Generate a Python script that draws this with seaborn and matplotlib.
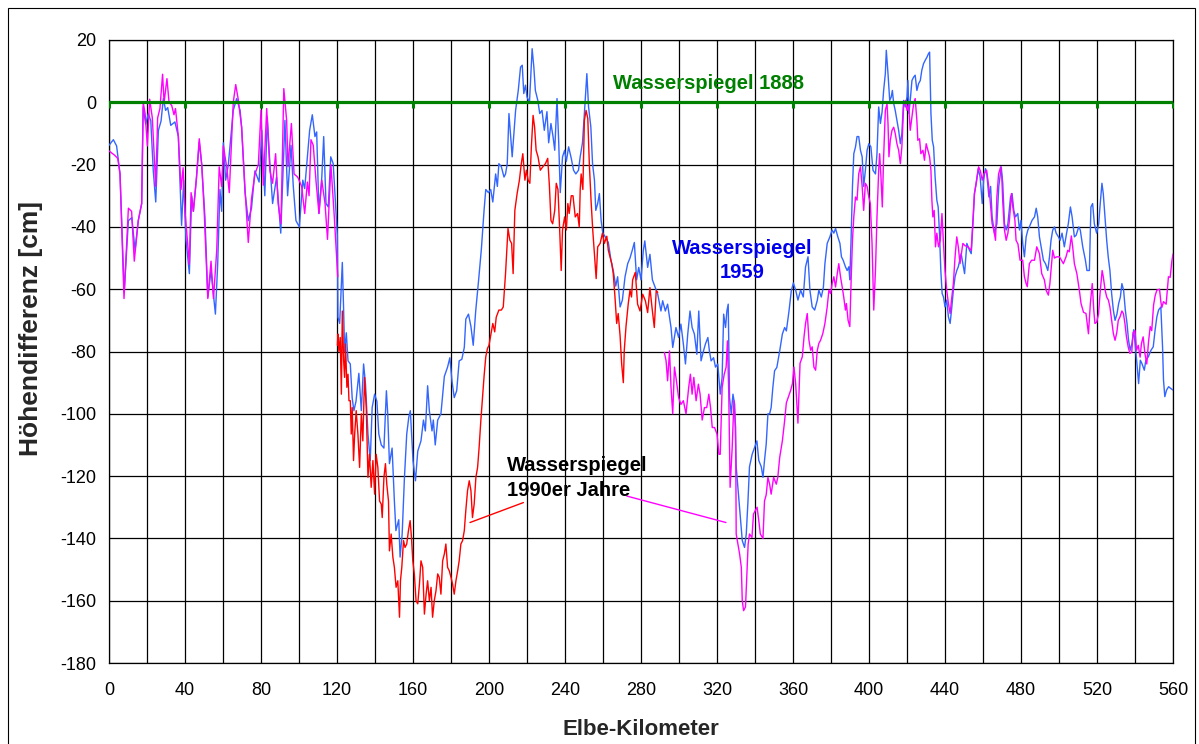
import matplotlib
matplotlib.use("Agg")
import matplotlib.pyplot as plt
import seaborn as sns
from matplotlib.patches import Rectangle

# ---------------- data: water level difference vs. Elbe kilometre ----------------
# Water level 1959
km_1959 = [
    0, 2.3, 4, 5.8, 8, 10.2, 12, 13.7, 15.4, 17.2, 18, 19.3, 20.7, 22, 23.3, 24.6, 26, 27.4,
    28.6, 29.8, 30.9, 32.5, 34.7, 36.5, 38.2, 39.3, 40.5, 42.3, 43.5, 44.4, 46, 47.5, 48.8,
    50.5, 52, 53.7, 56, 57.2, 58.4, 59.3, 60.2, 61.4, 62.8, 65.4, 67.2, 69, 69.8, 71.6, 73.3,
    75, 76.8, 79, 80.4, 82, 83.3, 84.7, 86.1, 88.2, 90.4, 92.6, 94, 95.8, 97, 98.4, 100.2,
    102, 103, 105.6, 107, 108.4, 109.3, 110.5, 112, 113, 114.2, 115.4, 116.7, 118, 120.2,
    120.5, 121.4, 122.8, 123.5, 124, 124.9, 125.8, 127, 128, 128.9, 130, 131.5, 132.8, 134,
    135, 136.3, 137.5, 138.5, 139.8, 141, 142, 143.3, 144.7, 146, 146.7, 147.6, 149, 150.2,
    151, 152.5, 153.2, 154.3, 155.5, 156.7, 157.8, 158.6, 160, 161.3, 162.5, 164.2, 165.5,
    166.5, 167.7, 168.6, 170, 170.7, 171.7, 173, 174.7, 176.5, 178.2, 179.4, 180.5, 181.7,
    183, 184.3, 185.7, 187, 187.8, 189.2, 190.5, 191.7, 193, 194.5, 196, 197.4, 198.3, 199.7,
    200.9, 202, 203.5, 204.4, 205.2, 206.5, 207.9, 208.7, 209.6, 210.5, 211.3, 212.2, 213,
    214, 215.4, 216.6, 217.5, 218.3, 219.2, 220, 221.3, 222.7, 223.6, 224.4, 225.7, 226.7,
    227.9, 229.1, 230.5, 231.4, 232.6, 233.7, 234.6, 235.8, 236.7, 237.5, 238.7, 239.8,
    240.7, 241.9, 243.3, 244.5, 245.7, 247.1, 248, 249.2, 250.2, 251.5, 252.4, 253.6, 254.5,
    255.5, 256.2, 257.2, 258.1, 259, 259.9, 261, 262.8, 264.2, 265.4, 266.7, 267.7, 269,
    270.2, 271.6, 273, 274.2, 275.4, 276.5, 277.7, 278.8, 280, 281.2, 282, 283.5, 284.7, 286,
    287.5, 288.8, 290.5, 291.4, 292.8, 294, 295, 295.8, 296.7, 298.4, 299.8, 301, 302.3,
    303.4, 304.6, 305.8, 306.9, 308.1, 309.4, 310.4, 311.6, 312.9, 313.9, 315.2, 316, 316.9,
    318.2, 319.2, 320.4, 321.7, 322.7, 323.5, 324.5, 325.2, 325.9, 326.6, 327.5, 328.4,
    329.3, 330.1, 331, 332.2, 333.3, 334.5, 335.4, 336.3, 337.1, 338.5, 339.8, 341, 342,
    343.3, 344.2, 345, 345.9, 346.8, 347.7, 348.5, 349.4, 350.3, 351.5, 353, 354.4, 355.6,
    356.5, 357.9, 359.1, 360.2, 361.4, 362.6, 364, 365.4, 366.6, 367.9, 368.9, 370.1, 371.4,
    372.8, 373.6, 374.9, 376, 376.8, 378, 379.4, 380.6, 381.5, 382.4, 383.6, 384.7, 385.5,
    386.4, 387.6, 388.5, 389.4, 389.9, 390.6, 391.3, 392, 392.9, 393.7, 394.6, 395.5, 396.4,
    397.2, 398.1, 399, 399.9, 401, 402.1, 403.4, 404.2, 405.1, 406, 406.9, 407.7, 408.6,
    409.1, 410, 410.9, 411.7, 412.3, 413, 413.8, 414.7, 415.6, 416.5, 417.3, 418.2, 419.1,
    420, 420.5, 421, 421.7, 422.6, 423.5, 424.3, 425.2, 426.1, 427, 427.8, 428.7, 429.6,
    430.5, 431.3, 431.9, 432.6, 433.3, 434, 434.8, 435.7, 436.4, 437.1, 437.8, 438.5, 439.2,
    440, 440.9, 441.8, 442.7, 443.6, 444.4, 445.3, 446.2, 447, 448.5, 450.3, 451.5, 452.9,
    453.8, 454.7, 455.5, 456.4, 457.5, 458.5, 459.6, 460.3, 461.3, 462, 463.1, 464, 464.8,
    466, 467.3, 468.3, 469.6, 470.4, 471.3, 472.2, 473.1, 474.5, 475.3, 476.2, 477.1, 478.3,
    479.2, 480, 480.9, 481.8, 482.7, 483.6, 484.4, 485.8, 487.1, 488, 488.8, 489.7, 490.9,
    491.8, 492.9, 494.1, 495, 495.8, 496.7, 497.6, 498.5, 499.7, 500.6, 501.6, 502.8, 504,
    504.9, 506, 506.9, 508.1, 509, 510.4, 511.2, 512.5, 513.9, 514.7, 516, 516.8, 517.7,
    518.6, 519.8, 520.9, 521.7, 522.6, 523.3, 524.2, 525.1, 525.9, 526.8, 527.7, 528.6,
    529.5, 530.5, 531.4, 532.3, 533.1, 534, 534.9, 535.8, 536.6, 537.5, 538.4, 539.3, 540.2,
    541, 541.9, 542.8, 543.6, 544.9, 545.7, 547, 548.4, 549.6, 550.6, 551.5, 552.4, 553.6,
    554.5, 555, 555.7, 556.6, 557.7, 558.9, 560,
]
h_1959 = [
    -13.8, -12, -14, -23, -61, -38, -37, -47.5, -38, -32.5, -1.5, -7, -3.6, -6, -22, -32, -9, -6,
    1.2, -2.6, -1.7, -7.4, -6.3, -11, -39.5, -25, -44, -55, -30, -35, -24.5, -12.7, -20,
    -37, -62.5, -54, -68, -52, -28, -35, -13, -25, -20, -2.6, 1.2, -2.6, -8, -29, -38,
    -34, -22, -25.6, -9, -30, -4.7, -20, -32.5, -24, -42, -5.8, -30, -13.8, -27, -38, -40,
    -25, -27.7, -9, -4, -11, -9.5, -35.7, -24, -11, -32.5, -33.6, -17.5, -19.7, -43,
    -69, -71, -51.4, -67, -80, -74, -83, -84, -95, -99, -96, -87, -99, -84,
    -90.5, -106.5, -115, -98, -93.7, -96, -106.5, -110, -111, -92.6, -100, -116, -111, -128,
    -137.5, -134, -146, -138.6, -120.4, -106.5, -101, -99, -115, -121.5, -112, -108.7, -102,
    -105.5, -91, -99, -105.5, -102, -110, -102, -100, -88, -85, -82, -89.4, -94.8,
    -92.6, -83, -82.5, -78.7, -69.6, -68, -72, -78, -67, -57.3, -47, -34.7, -28, -29,
    -28, -32, -23, -27, -19.7, -20.7, -24, -23, -19.7, -3.6, -10, -17.5, -11,
    -2.6, 3.8, 11.3, 11.9, 2.8, 5.5, 1.7, 0, 17.2, 11.3, 3.8, 0.6, -3.6,
    -2.6, -9, -3, -13, -6.8, -11, -15.4, 1.2, -13, -29, -17.5, -15.4,
    -19, -14.3, -18, -21.8, -23, -21.8, -17.5, -13, -3.6, 9.2, -1.5, -7.9, -19.7,
    -25, -34.7, -32.5, -29.3, -37.9, -42, -43, -45, -50.7, -54, -59, -56, -65.7,
    -63.5, -56, -51.8, -50, -47.5, -45, -57, -53, -57, -47.7, -44.5, -53, -48.8, -57,
    -59.5, -61.6, -67, -63.7, -67, -64.8, -69, -72.3, -78.7, -72.3, -75.5, -71.2, -77.6,
    -84, -74.4, -67, -72.3, -74.4, -80.9, -67, -83, -79.8, -77.6, -75.5, -79.8, -83,
    -82, -85, -84, -93.7, -88.3, -68, -72.3, -67, -64.8, -94.8, -100, -93.7,
    -97, -117, -123.6, -132, -140.7, -142.9, -138.6, -128, -117, -113, -110.8, -108.7, -115,
    -117, -120.4, -115, -109.7, -100, -100, -98, -91.5, -86.2, -85.1, -79.8, -74.4, -72.3,
    -73.4, -67, -60.5, -58, -60.3, -63.5, -60.3, -62.5, -52.8, -49.6, -60.3, -65.7, -66.7,
    -63.5, -60.3, -62.5, -59.3, -51.8, -45.3, -43.2, -41, -42, -40.5, -43.2, -45.3, -49.6,
    -50.7, -52.8, -54, -52.8, -57, -43.2, -27, -16.5, -14.3, -11, -11, -15.4, -17.5,
    -27, -21.8, -15.4, -13.3, -14.3, -21.8, -23, -16.5, -1.5, -6.8, -3, 3.8, 9.2,
    16.7, 9.2, 0.6, 1.7, 3.8, -0.4, -2.6, -5.8, -9, -13.3, -10, 0.6, -1.5,
    1.7, 7, -3.6, 0.6, 7, 8.1, 8.7, 3.8, 6, 7, 10.3, 12.4, 13.5,
    14.5, 15.6, 16.1, -3.6, -12.2, -14.3, -24, -31.4, -33.6, -42, -54, -61.4, -62.5,
    -65.7, -63.5, -68.9, -71, -65.7, -60.3, -56, -54, -52.8, -48.6, -55, -45.3, -47.5,
    -48.6, -39, -29.3, -26, -21.3, -24, -32.5, -25, -21.3, -23, -30.4, -27, -36.8,
    -42, -39, -27, -20.7, -26, -39, -41, -39, -30.4, -29.3, -34.7, -36.8, -35.7,
    -41, -37.9, -45.3, -49.6, -43.2, -41, -40, -37.9, -36.8, -34, -36.8, -43.2, -47.5,
    -50.7, -51.8, -54, -49.6, -44.3, -41, -40, -42, -43.2, -44.3, -42, -46.4, -42,
    -39, -33.6, -36.8, -43.2, -42.7, -40, -41, -46.4, -50.7, -54, -54, -33.6, -32.5,
    -39, -42, -39, -32.5, -26, -29.3, -36.8, -44.3, -49.6, -54, -61.4, -66.7,
    -70, -68, -64.6, -62.5, -58.2, -60.3, -66.7, -71, -76.4, -79.6, -77.4, -73, -78.5,
    -83.8, -90.3, -82.8, -83.8, -86, -82.8, -81.7, -79.6, -78.5, -73, -68.9, -66.7, -65.7,
    -78.5, -89.2, -94.5, -92.4, -91.3, -91.9, -92.4,
]

# Water level 1990s, upper section (km 0-120)
km_1990_upper = [
    0, 3, 4.6, 5.8, 7.9, 10.2, 11.9, 13.3, 15.4, 17.2, 18, 19, 20.2, 21.4, 22.8, 24.6, 25.6,
    26.8, 28.2, 29, 30.5, 31.6, 33, 34.2, 35, 36.5, 37.9, 39, 40, 42.3, 43.2, 44.4, 46, 47.5,
    48.8, 50, 52, 53.7, 55, 56.7, 58, 59.3, 60.2, 62, 63.3, 65.4, 66.7, 68, 69.8, 71.6, 73.3,
    75, 76.8, 78.6, 80, 81.2, 83, 84.7, 86.1, 87.7, 89, 90.5, 92, 93.5, 94.2, 96, 97.4, 99.3,
    101.4, 103, 104.4, 105.3, 106.3, 107.5, 109, 110.5, 112, 113.7, 115, 116.8, 118.6, 120.4,
]
h_1990_upper = [
    -15.6, -17, -18, -23, -63, -34, -35, -51, -38, -32.5, 0, -3.6, -14, 1, -5, -27, -5,
    -2, 9, 0, 7.6, 0, -1, -4, -2, -11, -28, -21, -35, -52, -29, -35, -24.5, -11.7,
    -20, -33.6, -63, -51, -63, -47.5, -20.7, -27, -14, -21, -29, 0, 5.7, 1, -8, -28, -45,
    -31, -23, -20, -2.5, -26.6, -2, -22, -26, -16.5, -32.5, -39, 4.4, -5.8, -20.7, -6.8, -23, -24,
    -27, -35.7, -25.6, -30, -12, -13.8, -25.6, -35.7, -25, -32.5, -44, -20, -37, -56,
]

# Water level 1990s, middle section (km 120-289)
km_1990_middle = [
    120.2, 120.5, 121, 121.7, 122.3, 122.8, 123.5, 124, 124.5, 125.2, 125.8, 126.3, 127,
    127.5, 128, 128.7, 129.3, 130.1, 131, 131.9, 132.8, 133.6, 134.5, 135.4, 136.3, 137.1,
    138, 138.9, 139.8, 140.6, 141.5, 142.4, 143.3, 143.8, 144.7, 145.5, 146.2, 147.1, 147.6,
    148.5, 149.4, 150.2, 151.1, 152, 152.9, 153.4, 154.1, 155, 155.8, 156.7, 157.6, 158.5,
    159.2, 159.9, 160.7, 161.6, 162.5, 163.4, 164.2, 165.1, 166, 166.9, 167.7, 168.6, 169.5,
    170.3, 171.2, 172.1, 173, 173.8, 174.7, 175.6, 176.5, 177.3, 178.2, 179.1, 180, 180.8,
    181.7, 182.6, 183.5, 184.3, 185.2, 186.1, 187, 187.8, 188.7, 189.6, 190.5, 191.3, 192.2,
    193.1, 194, 194.8, 195.7, 196.6, 197.4, 198.3, 199.2, 200, 201.4, 202, 203, 203.8, 205.2,
    206.5, 207.5, 208.7, 210, 211, 211.9, 212.7, 213.6, 214.8, 216, 217, 217.8, 218.9, 219.7,
    220.6, 221.5, 222.3, 223.2, 224, 224.8, 225.8, 227, 228.3, 229.7, 230.9, 231.8, 232.6,
    233.5, 234.6, 235.4, 236.3, 237.2, 238, 238.7, 239.8, 240.7, 241.5, 242.2, 243.3, 244.2,
    245.4, 246.6, 247.5, 248, 248.5, 249.4, 250.2, 251.1, 252, 252.8, 253.7, 254.6, 255.5,
    256.4, 257.2, 258.5, 259.7, 260.7, 262, 262.8, 263.7, 264.6, 265.4, 266.3, 267.2, 268,
    269, 269.8, 270.7, 271.2, 272.1, 273.3, 274.2, 275, 275.6, 277, 278.2, 279.5, 280.9,
    282.3, 283.5, 284.7, 285.8, 287, 288, 288.8,
]
h_1990_middle = [
    -78, -74.4, -80, -75.5, -93.7, -67, -83, -88.3, -77.6, -91.5, -87.3, -95.8, -95.8,
    -106.5, -98, -115, -106.5, -99, -106.5, -117.2, -100, -108.7, -88.3, -98, -120.4, -113,
    -123.6, -115, -125.8, -113, -117.2, -128, -129, -133.3, -120.4, -116, -122.6, -128, -144,
    -138.6, -146, -149.3, -155.7, -153.6, -165.3, -153.6, -149.3, -140.7, -142.9, -141.8, -137.5, -134.3,
    -139.7, -147.2, -151.4, -160, -161, -154.6, -147.2, -149.3, -164.3, -157.9, -153.6, -160, -155.7,
    -165.3, -160, -156.8, -151.4, -152.5, -157.9, -147.2, -145, -141.8, -149.3, -150.4, -152.5, -154.6,
    -157.9, -153.6, -150.4, -147.2, -141.8, -140.7, -137.5, -131, -124.7, -121.5, -124.7, -133.3, -129,
    -120.4, -117.2, -110.8, -102.2, -94.8, -88, -81.7, -79, -78, -73, -71, -73.7, -69, -66.7,
    -66.7, -65.7, -55, -40.5, -44.3, -45.3, -55, -34.7, -29.3, -25, -19.7, -16.5, -25, -21.8,
    -25, -26, -14.3, -4.2, -8, -15.4, -17.5, -21.8, -20.7, -19.7, -18, -27, -37.9,
    -39, -34.7, -26, -28, -41, -54, -41, -36.8, -41, -32.5, -35.7, -30, -30,
    -36.8, -35.7, -40, -28, -23, -28, -5.8, -2.6, -5.2, -19.7, -31.4, -41, -48.6,
    -56.6, -46.4, -45.3, -42, -45.3, -43, -47.5, -49.6, -51.8, -55, -62.5, -71, -67.8,
    -75, -83.8, -90, -79.6, -72, -64.6, -60.3, -62.5, -57, -54.6, -64.8, -67, -61.6,
    -63.7, -67.5, -59.5, -65.9, -72.3, -60.5, -61,
]

# Water level 1990s, lower section (km 292-560)
km_1990_lower = [
    292.3, 293.2, 294, 295, 295.8, 296.7, 297.6, 298.4, 299.8, 301, 302.3, 303.7, 305.1, 306,
    306.9, 307.8, 309, 310.2, 311.1, 312.2, 313.4, 314.6, 315.7, 316.6, 317.5, 318.7, 320,
    321, 321.7, 322.7, 323.8, 324.8, 325.5, 326.2, 326.9, 328, 328.9, 329.8, 330.1, 331,
    331.9, 332.8, 333.3, 334, 335, 335.7, 336.4, 337.1, 338.4, 339.2, 340.2, 341.1, 342,
    342.8, 344.2, 345, 345.9, 346.8, 347.7, 348.5, 349.8, 351.2, 352, 353, 354.4, 355.6,
    356.5, 357.9, 358.8, 359.7, 360.5, 361.4, 362.6, 363.7, 364.9, 365.8, 366.6, 367.5,
    368.4, 369.3, 370.1, 371, 371.9, 372.8, 373.6, 374.5, 375.7, 376.8, 378, 378.9, 379.8,
    380.6, 381.5, 382.4, 383.3, 384.1, 385, 385.9, 386.7, 387.6, 388.1, 389, 389.9, 390.6,
    391.3, 392, 392.9, 393.7, 394.6, 395.5, 396.4, 397.2, 398.1, 399, 399.9, 400.7, 401.6,
    402.5, 403.4, 404.2, 405.1, 405.6, 406.3, 407, 407.7, 408.6, 409.5, 410, 410.5, 411.2,
    412.1, 413, 413.8, 414.7, 415.6, 416.5, 417.3, 418.2, 419.1, 420, 420.8, 421.7, 422.6,
    423.5, 424.3, 425.2, 425.7, 426.6, 427.3, 428.4, 429.2, 430.1, 431, 431.9, 432.6, 433.1,
    433.6, 434.3, 435, 435.7, 436.6, 437.5, 438.4, 439.2, 440, 440.9, 441.8, 442.7, 443.6,
    444.4, 445.3, 446.2, 447, 447.9, 449.4, 450.5, 452, 453.8, 454.7, 455.5, 456.4, 457.7,
    458.6, 459.6, 460.5, 461.9, 462.8, 463.6, 464.8, 465.7, 466.6, 467.3, 468.2, 469.3,
    469.9, 470.4, 471.3, 472.2, 473.1, 473.9, 475, 475.7, 476.8, 477.4, 478.4, 479.5, 480.9,
    481.8, 482.7, 483.3, 484.4, 485.6, 487.1, 488.3, 489.7, 490.9, 492.3, 493.2, 494.4,
    495.2, 496.7, 497.6, 498.8, 500.2, 501.1, 502.3, 503.7, 504.6, 505.4, 506.5, 507.2,
    508.1, 509.4, 510.7, 511.6, 512.9, 514.2, 515.5, 516.5, 517.5, 518.3, 518.9, 519.8,
    520.8, 521.6, 522.7, 523.3, 524.2, 525.1, 526, 526.8, 527.7, 528.6, 529.5, 530.4, 531.2,
    532.1, 533.1, 533.9, 534.7, 535.5, 536.4, 537.3, 538.3, 539, 540, 540.8, 541.7, 542.7,
    543.4, 544.3, 545.2, 546.2, 547.1, 548, 548.8, 549.8, 550.6, 551.5, 552.9, 553.6, 554.1,
    555, 556.4, 557.6, 558.5, 559.4, 560,
]
h_1990_lower = [
    -80.3, -83, -89.4, -79.8, -91.5, -100, -85, -88.3, -94.8, -97, -95.8, -100, -91.5, -87.3,
    -93.7, -88.3, -95.8, -90.5, -93.7, -102, -98, -98, -93.7, -98, -104.4, -104.4, -106.5,
    -113, -113, -91.5, -87.3, -85, -76.6, -93.7, -123.6, -110.8, -95.8, -104.4, -138.6, -141.8,
    -145, -149.3, -160, -163.2, -162, -151.5, -141.8, -138.6, -139.7, -132.2, -131, -130, -134.3,
    -138.6, -140, -128, -126, -120.4, -122.6, -125.8, -120.4, -122.6, -120.4, -114, -108.7, -102.2,
    -96.5, -94, -92.4, -90.3, -85, -90.3, -103, -83.8, -81.7, -75.3, -71, -67.8,
    -76.4, -79.6, -78.5, -85, -86, -79.6, -77.4, -76.4, -74.2, -71, -65.7, -60.3, -61.4,
    -58.2, -56, -59.3, -55, -51.8, -56, -59.3, -62.5, -66.7, -64.6, -70, -72, -57,
    -44.3, -36.8, -30.4, -31.4, -22.9, -20.7, -27, -34.7, -26, -27, -30.4, -32.5, -45.3,
    -66.7, -54, -36.8, -21.8, -16.5, -24, -33.6, -17.5, -2.6, -0.4, -6.8, -17.5, -12.2,
    -9, -8, -10, -13.3, -15.4, -19.7, -14.3, -1.5, 0.6, -2.6, -0.4, -9, -4.7,
    -0.4, 1.2, -5.8, -12.2, -11.7, -16.5, -15.4, -18.6, -13.3, -15.4, -17.5, -21.8, -31.4,
    -36.8, -34.7, -46.4, -42, -46.4, -44.3, -35.7, -45.3, -54, -60.3, -64.6, -67.8, -62.5,
    -58.2, -49.6, -43.2, -46.4, -51.8, -45.3, -46, -46.4, -47.5, -37.9, -29.3, -26, -20.7,
    -22, -25, -22.9, -21.8, -26, -30.4, -39, -41, -44.3, -30.4, -23, -20.7,
    -24, -32, -41, -44.3, -42, -37.9, -29.3, -33.6, -37.9, -44.3, -45.5, -50.7, -50.7,
    -56, -58.2, -59.2, -51.8, -50.7, -50.7, -46.4, -48.6, -55, -57, -60.3, -61.9,
    -58.2, -47.5, -50, -49.6, -49.6, -50.5, -51.8, -49.6, -47.5, -48, -42.9, -46.4,
    -51.8, -55, -60.3, -64.6, -67.4, -67.8, -74.3, -64.6, -58.2, -66.7, -71, -70.6,
    -68, -61.4, -54, -56, -60, -62.5, -63.5, -65.7, -70, -74.2, -76.4, -74, -70,
    -68.9, -67, -67.8, -71, -75.3, -78.5, -80.6, -80.2, -74, -73.3, -79.6, -78, -81.8,
    -77.4, -75.3, -80.6, -84, -77, -72, -73.3, -65, -62.1, -60.3, -60, -64, -65.9,
    -64, -64.8, -56, -56.2, -51, -48.7,
]

# Reference water level 1888 (zero line, survey points every 40 km)
km_1888 = [0, 40, 80, 120, 160, 200, 240, 280, 320, 360, 400, 440, 480, 520, 560]
h_1888 = [0, 0, 0, 0, 0, 0, 0, 0, 0, 0, 0, 0, 0, 0, 0]

x_ticks = [0, 40, 80, 120, 160, 200, 240, 280, 320, 360, 400, 440, 480, 520, 560]
y_ticks = [-180, -160, -140, -120, -100, -80, -60, -40, -20, 0, 20]

# ---------------- styling ----------------
sns.set_theme(style="white")
plt.rcParams["font.family"] = ["Liberation Sans", "DejaVu Sans"]

c_1959 = "#3366FF"
c_1990 = "#FF00FF"
c_1990_mid = "#FF0000"
c_1888 = "#008000"

fig = plt.figure(figsize=(11.99, 7.44), dpi=100)
ax = fig.add_axes([109 / 1199, 1 - 663 / 744, (1173 - 109) / 1199, (663 - 40) / 744])

line_kw = dict(ax=ax, estimator=None, sort=False, linewidth=1.0)
sns.lineplot(x=km_1959, y=h_1959, color=c_1959, zorder=3, **line_kw)
sns.lineplot(x=km_1990_upper, y=h_1990_upper, color=c_1990, zorder=4, **line_kw)
sns.lineplot(x=km_1990_middle, y=h_1990_middle, color=c_1990_mid, zorder=4, **line_kw)
sns.lineplot(x=km_1990_lower, y=h_1990_lower, color=c_1990, zorder=4, **line_kw)
sns.lineplot(x=km_1888, y=h_1888, color=c_1888, ax=ax, estimator=None, sort=False,
             linewidth=2.3, marker=3, markersize=4, markeredgewidth=2.2,
             markeredgecolor=c_1888, zorder=5)

ax.set_xlim(0, 560)
ax.set_ylim(-180, 20)
ax.set_xticks(x_ticks)
ax.set_xticks(list(range(20, 560, 40)), minor=True)
ax.set_yticks(y_ticks)
ax.set_xticklabels([str(v) for v in x_ticks])
ax.set_yticklabels([str(v) for v in y_ticks])
ax.grid(True, which="both", axis="x", color="black", linewidth=0.9)
ax.grid(True, which="major", axis="y", color="black", linewidth=0.9)
ax.set_axisbelow(True)
ax.tick_params(axis="both", which="major", direction="out", length=4, width=0.9,
               color="black", labelsize=13, labelcolor="black", pad=5)
ax.tick_params(axis="x", which="major", pad=10)
ax.tick_params(axis="x", which="minor", length=0)
for s in ax.spines.values():
    s.set_color("black")
    s.set_linewidth(0.9)

ax.set_xlabel("Elbe-Kilometer", fontsize=16, fontweight="bold", labelpad=14)
fig.text(31 / 1199, 1 - 328 / 744, "Höhendifferenz [cm]", fontsize=19, fontweight="bold",
         rotation=90, ha="center", va="center")

# series labels
ax.text(315.3, 5.9, "Wasserspiegel 1888", color=c_1888, fontsize=14.5,
        fontweight="bold", ha="center", va="center", zorder=6)
ax.text(333.4, -50.8, "Wasserspiegel\n1959", color="#0000EE", fontsize=14.5,
        fontweight="bold", ha="center", va="center", linespacing=1.3, zorder=6)
ax.text(209.3, -120.6, "Wasserspiegel\n1990er Jahre", color="black", fontsize=14.5,
        fontweight="bold", ha="left", va="center", linespacing=1.35, zorder=6)
ax.annotate("", xy=(190.0, -134.9), xytext=(218.1, -128.5),
            arrowprops=dict(arrowstyle="-", color=c_1990_mid, lw=1.0, shrinkA=0, shrinkB=0))
ax.annotate("", xy=(324.7, -134.9), xytext=(272.5, -126.4),
            arrowprops=dict(arrowstyle="-", color=c_1990, lw=1.0, shrinkA=0, shrinkB=0))

# chart frame
fig.patches.append(Rectangle((8 / 1199, -0.05), (1195 - 8) / 1199, 1.05 - 8 / 744,
                             transform=fig.transFigure, fill=False,
                             edgecolor="black", linewidth=0.8))

fig.savefig("out.png", dpi=100)
